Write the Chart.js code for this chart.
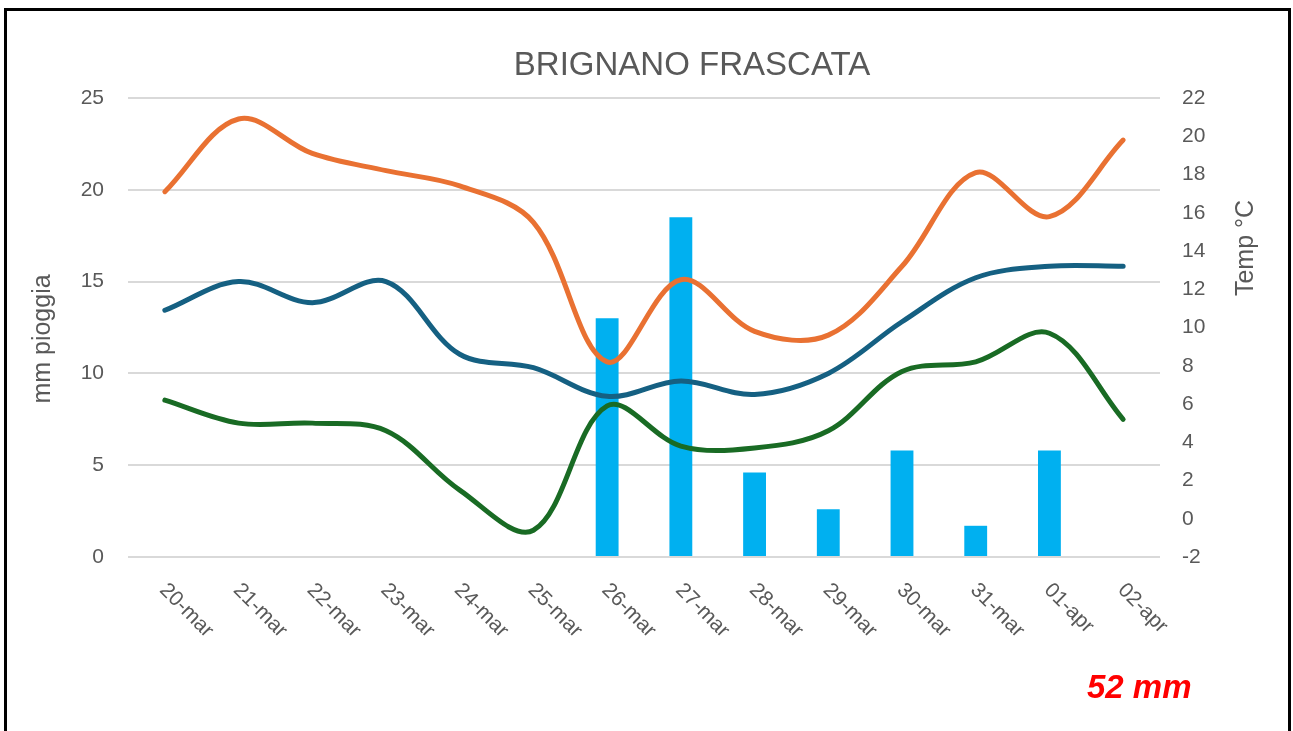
<!DOCTYPE html>
<html>
<head>
<meta charset="utf-8">
<script src="https://cdn.jsdelivr.net/npm/chart.js@4"></script>
<style>
    html, body { margin: 0; padding: 0; background: #fff; }
    #wrap { position: relative; width: 1293px; height: 731px; overflow: hidden; }
    #frame {
        position: absolute; left: 4px; top: 8px; width: 1281px; height: 760px;
        border: 3px solid #000; box-sizing: content-box;
    }
    canvas { position: absolute; left: 0; top: 0; }
</style>
</head>
<body>
<div id="wrap">
    <div id="frame"></div>
    <canvas id="meteoChart" width="1293" height="731"></canvas>
</div>
<script>
// Days
const days = ['20-mar', '21-mar', '22-mar', '23-mar', '24-mar', '25-mar', '26-mar',
              '27-mar', '28-mar', '29-mar', '30-mar', '31-mar', '01-apr', '02-apr'];

// Rain (mm), left axis
const rainMm = [null, null, null, null, null, null, 13.0, 18.5, 4.6, 2.6, 5.8, 1.7, 5.8, null];

// Temperatures (°C), right axis
const tempMax = [17.1, 20.9, 19.1, 18.2, 17.4, 15.5, 8.2, 12.5, 9.8, 9.6, 13.2, 18.1, 15.8, 19.8];
const tempMean = [10.9, 12.4, 11.3, 12.4, 8.6, 7.9, 6.4, 7.2, 6.5, 7.6, 10.3, 12.6, 13.2, 13.2];
const tempMin = [6.2, 5.0, 5.0, 4.6, 1.5, -0.6, 5.9, 3.8, 3.7, 4.6, 7.7, 8.2, 9.7, 5.2];

// Axis ranges
const rainTicks = { min: 0, max: 25, step: 5 };
const tempTicks = { min: -2, max: 22, step: 2 };

const chartTitle = 'BRIGNANO FRASCATA';
const rainTitle = 'mm pioggia';
const tempTitle = 'Temp °C';
const totalLabel = '52 mm';

const FONT = '"Liberation Sans", Arial, sans-serif';
const GREY = '#595959';

// Draws title, axis titles, slanted day labels and the total
const extraText = {
    id: 'extraText',
    afterDraw(chart) {
        const { ctx, chartArea, scales } = chart;
        ctx.save();
        ctx.fillStyle = GREY;

        ctx.font = '33px ' + FONT;
        ctx.textAlign = 'center';
        ctx.textBaseline = 'alphabetic';
        ctx.fillText(chartTitle, 692, 75);

        // day labels, slanted down to the right
        ctx.font = '21px ' + FONT;
        ctx.textAlign = 'left';
        ctx.textBaseline = 'middle';
        chart.data.labels.forEach((label, i) => {
            const x = scales.x.getPixelForTick(i);
            ctx.save();
            ctx.translate(x - 2, chartArea.bottom + 30);
            ctx.rotate(Math.PI / 4);
            ctx.fillText(label, 0, 0);
            ctx.restore();
        });

        // axis titles
        ctx.font = '25px ' + FONT;
        ctx.textAlign = 'center';
        ctx.save();
        ctx.translate(chartArea.left - 85, 339);
        ctx.rotate(-Math.PI / 2);
        ctx.fillText(rainTitle, 0, 0);
        ctx.restore();

        ctx.save();
        ctx.translate(chartArea.right + 86, 248);
        ctx.rotate(-Math.PI / 2);
        ctx.fillText(tempTitle, 0, 0);
        ctx.restore();

        // total rain
        ctx.fillStyle = '#FF0000';
        ctx.font = 'italic bold 33px ' + FONT;
        ctx.textAlign = 'left';
        ctx.textBaseline = 'alphabetic';
        ctx.fillText(totalLabel, 1087, 698);

        ctx.restore();
    }
};

function lineSet(label, data, color) {
    return {
        type: 'line',
        label: label,
        data: data,
        yAxisID: 'yTemp',
        borderColor: color,
        backgroundColor: color,
        borderWidth: 5,
        borderCapStyle: 'round',
        borderJoinStyle: 'round',
        pointRadius: 0,
        tension: 0.35,
        fill: false,
        order: 1
    };
}

const ctx = document.getElementById('meteoChart').getContext('2d');
new Chart(ctx, {
    type: 'bar',
    data: {
        labels: days,
        datasets: [
            lineSet('T max', tempMax, '#E97132'),
            lineSet('T media', tempMean, '#156082'),
            lineSet('T min', tempMin, '#196B24'),
            {
                type: 'bar',
                label: 'Pioggia',
                data: rainMm,
                yAxisID: 'yRain',
                backgroundColor: '#00B0F0',
                borderWidth: 0,
                barPercentage: 0.31,
                categoryPercentage: 1,
                order: 2
            }
        ]
    },
    options: {
        responsive: false,
        animation: false,
        devicePixelRatio: 1,
        layout: { padding: { left: 0, right: 0, top: 98, bottom: 174 } },
        plugins: {
            legend: { display: false },
            title: { display: false },
            tooltip: { enabled: false }
        },
        scales: {
            x: {
                offset: true,
                grid: { display: false, drawTicks: false },
                border: { display: false },
                ticks: { display: false },
                afterFit: scale => { scale.height = 0; }
            },
            yRain: {
                position: 'left',
                min: rainTicks.min,
                max: rainTicks.max,
                grid: { color: '#D9D9D9', lineWidth: 2, drawTicks: false },
                border: { display: false },
                ticks: {
                    stepSize: rainTicks.step,
                    padding: 24,
                    color: GREY,
                    font: { family: FONT, size: 21 }
                },
                afterFit: scale => { scale.width = 128; }
            },
            yTemp: {
                position: 'right',
                min: tempTicks.min,
                max: tempTicks.max,
                grid: { display: false, drawTicks: false },
                border: { display: false },
                ticks: {
                    stepSize: tempTicks.step,
                    padding: 22,
                    color: GREY,
                    font: { family: FONT, size: 21 }
                },
                afterFit: scale => { scale.width = 133; }
            }
        }
    },
    plugins: [extraText]
});
</script>
</body>
</html>
